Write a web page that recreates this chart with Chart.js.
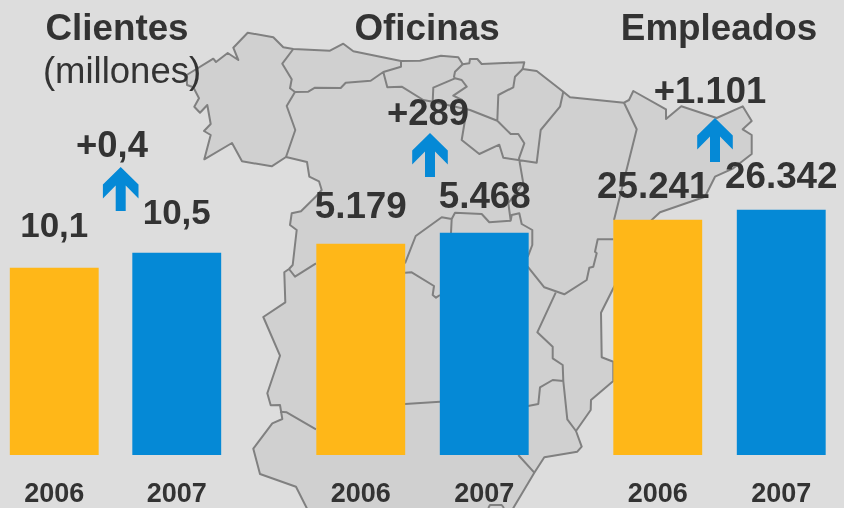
<!DOCTYPE html>
<html lang="es">
<head>
<meta charset="utf-8">
<title>Clientes, Oficinas y Empleados</title>
<script src="https://cdn.jsdelivr.net/npm/chart.js@4"></script>
<style>
html,body{margin:0;padding:0;background:#dddddd;overflow:hidden}
#stage{position:relative;width:844px;height:508px;overflow:hidden;background:#dddddd}
#stage svg,#stage .p{position:absolute;top:0}
#stage svg{left:0}
#stage .p{height:508px;width:247px}
</style>
</head>
<body>
<div id="stage">
<svg id="map" width="844" height="508" viewBox="0 0 844 508"></svg>
<div class="p" style="left:-7px;width:245px"><canvas id="c1"></canvas></div>
<div class="p" style="left:299px"><canvas id="c2"></canvas></div>
<div class="p" style="left:596px"><canvas id="c3"></canvas></div>
</div>
<script>
// ---- chart data ----
const years = ["2006", "2007"];
const clientes = [10.1, 10.5];
const oficinas = [5179, 5468];
const empleados = [25241, 26342];
const clientesLabels = ["10,1", "10,5"];
const oficinasLabels = ["5.179", "5.468"];
const empleadosLabels = ["25.241", "26.342"];
const barColors = ["#FFB718", "#0589D6"];

// ---- background map of Spain (decoration, page pixels) ----
const mapOutline = [[247.7,32.7],[273.3,37.3],[283.3,47.3],[293.3,49],[330,50.7],[343.3,43.7],[353.3,51.3],[401,61],[420,60.7],[441,55.7],[458.3,57.3],[462.7,64.3],[469.3,63.3],[470,59],[477.3,59],[481.7,64],[524.3,62.3],[522.7,69],[536.7,71],[563.3,91.7],[570,97.3],[624,102.7],[629,100],[633.3,91],[666,109.3],[666,119],[681.3,106.3],[716.7,118],[742.7,106.3],[751.7,121],[742.7,129.3],[751.7,135],[751.7,154],[733.3,168.3],[715,176.7],[705,196.7],[660,212.3],[651.7,220],[613.3,288.3],[601,312.7],[601.7,357.3],[613.3,361.7],[613.3,381],[591,400],[590.7,410],[576,431],[581.7,446.7],[577.3,451.7],[544.3,457.3],[534.3,472.7],[513.3,508],[513,530],[310,530],[306.7,508],[296,486.7],[260,474],[253.3,448.7],[272.3,423.3],[282.3,419],[280,405],[270.7,405.3],[267.3,393.3],[280,355.7],[263.3,317],[285.3,302.3],[284.3,272.3],[289,269],[292.7,265],[296.7,230],[290,225],[291.7,213.3],[301,211.3],[316.7,195.7],[321.7,190],[319,181.3],[309.3,176.7],[307,162],[286,157],[271.7,166.3],[242,161.3],[232,143],[204.3,159.3],[210.7,135],[204,131],[210.7,124],[207.3,105],[200,112.7],[194.3,106.7],[199,98.3],[193.3,87.3],[187,85],[186.7,75],[213.3,58.7],[216,62],[227.7,53],[238.3,60],[233.3,47.7]];
const mapBorders = [
 [[293.3,49],[282.3,63.7],[291.7,79.3],[290,88.3],[295,92],[286.7,106],[295.3,130],[286,157]],
 [[295,92],[308.3,91.7],[315,87.7],[340.7,88],[345.7,82.7],[370.7,80.7],[383.3,72],[401,66.7],[401,61]],
 [[383.3,72],[387.3,87.3],[401.7,86.7],[423.3,100],[432.7,101.7],[470,110],[497.3,120.7]],
 [[432.7,101.7],[433.3,87.7],[455,78.3],[461.7,80],[466.7,86.7],[453.3,95.7],[462,100],[465,120],[461.7,140],[479.3,154],[499.3,144.7],[503.3,157.7],[536.7,162.7],[540.7,130],[560,106.7],[563.3,91.7]],
 [[462.7,64.3],[455,71.7],[454,76.7],[455,78.3]],
 [[497.3,120.7],[498.3,95],[513.3,87.3],[515,76.7],[522.7,69]],
 [[497.3,120.7],[510.7,134],[518.3,134],[524.3,143.3],[519,158.3],[523.3,183.3],[508.3,203],[510.7,220.7]],
 [[405,263.3],[415.7,236],[441.7,217.3],[451.7,219],[455,212.7],[481.7,214],[489.3,222.3],[510.7,220.7],[511.7,215],[519.3,213.3],[521.7,224],[532.3,230],[532.3,245],[527.7,257]],
 [[451.7,219],[451,233]],
 [[527.7,266.7],[544.3,287.3],[564.3,294.3],[586.7,280],[589.3,267.7],[593.3,266.7],[596.7,253.3],[595,251.7],[597.7,239.3],[613.3,239.3]],
 [[624,102.7],[636.7,129.3],[614,220]],
 [[555.7,292.7],[537.3,332.3],[552.7,346.7],[552.7,358.3],[562.7,365],[563.3,381],[567.3,419.3],[576,431]],
 [[563.3,381],[552.7,380],[540,387.3],[538.3,404],[528,406]],
 [[405,404],[440,401.7]],
 [[280,411.7],[286.7,412.3],[316,429.3]],
 [[405,272.7],[411.7,272.3],[434,286],[432.7,295],[436,297.7],[440,295]],
 [[289,269],[295,276.7],[316,263.3]],
 [[518.3,455],[534.3,472.7]],
 [[488.3,508],[490,505],[501.7,505],[504,508]]
];
const toPath = pts => pts.map((p, i) => (i ? "L" : "M") + p[0] + " " + p[1]).join("");
document.getElementById("map").innerHTML =
  '<path d="' + toPath(mapOutline) + 'Z" fill="#d0d0d0" stroke="#808080" stroke-width="2" stroke-linejoin="round"/>' +
  '<path d="' + mapBorders.map(toPath).join("") + '" fill="none" stroke="#808080" stroke-width="2" stroke-linejoin="round"/>';

// ---- text and arrow annotations ----
const FONT = '"Liberation Sans", Arial, sans-serif';
const TEXT = "#333333";
const annotate = {
  id: "annotate",
  afterDatasetsDraw(chart, _a, o) {
    const ctx = chart.ctx, meta = chart.getDatasetMeta(0);
    ctx.save();
    ctx.fillStyle = TEXT;
    ctx.textAlign = "center";
    ctx.textBaseline = "alphabetic";
    ctx.font = "bold " + o.labelSize + "px " + FONT;
    o.labels.forEach((t, i) => {
      const bar = meta.data[i];
      ctx.fillText(t, bar.x + o.labelDx[i], bar.y - o.labelGap[i]);
    });
    ctx.font = "bold 36.8px " + FONT;
    ctx.fillText(o.title, o.titleX, 39.5);
    if (o.subtitle) {
      ctx.font = "36.5px " + FONT;
      ctx.fillText(o.subtitle, o.subtitleX, 83);
    }
    ctx.font = "bold 36.4px " + FONT;
    ctx.fillText(o.delta, o.deltaX, o.deltaY);
    const x = o.arrowX, y = o.arrowY;
    ctx.fillStyle = barColors[1];
    ctx.beginPath();
    [[0,0],[17.8,17.5],[17.8,31.5],[5,18.5],[5,44],[-5,44],[-5,18.5],[-17.8,31.5],[-17.8,17.5]]
      .forEach((p, i) => i ? ctx.lineTo(x + p[0], y + p[1]) : ctx.moveTo(x + p[0], y + p[1]));
    ctx.closePath();
    ctx.fill();
    ctx.restore();
  }
};

function panel(id, values, yMin, yMax, opts) {
  new Chart(document.getElementById(id), {
    type: "bar",
    data: { labels: years, datasets: [{ data: values, base: yMin, backgroundColor: barColors, barThickness: 88.2, borderWidth: 0 }] },
    plugins: [annotate],
    options: {
      responsive: true,
      maintainAspectRatio: false,
      animation: false,
      events: [],
      layout: { padding: 0 },
      plugins: { legend: { display: false }, tooltip: { enabled: false }, title: { display: false }, annotate: opts },
      scales: {
        x: {
          afterFit(s) { s.height = 53; },
          grid: { display: false, drawTicks: false },
          border: { display: false },
          ticks: { color: TEXT, padding: 23, maxRotation: 0, font: { family: FONT, size: 27, weight: "bold" } }
        },
        y: { display: false, min: yMin, max: yMax }
      }
    }
  });
}

panel("c1", clientes, 5.113, 17.247, {
  labels: clientesLabels, labelSize: 35, labelDx: [0, 0], labelGap: [31, 29],
  title: "Clientes", titleX: 124, subtitle: "(millones)", subtitleX: 129,
  delta: "+0,4", deltaX: 119, deltaY: 156.5, arrowX: 127.7, arrowY: 167
});
panel("c2", oficinas, -364.5, 11589.6, {
  labels: oficinasLabels, labelSize: 36.8, labelDx: [0, 0.5], labelGap: [26.5, 25.5],
  title: "Oficinas", titleX: 128,
  delta: "+289", deltaX: 129, deltaY: 125, arrowX: 131, arrowY: 133
});
panel("c3", empleados, -632.5, 49463, {
  labels: empleadosLabels, labelSize: 36.8, labelDx: [-4.5, 0], labelGap: [22.5, 22.5],
  title: "Empleados", titleX: 123,
  delta: "+1.101", deltaX: 114, deltaY: 103, arrowX: 119, arrowY: 118
});
</script>
</body>
</html>
